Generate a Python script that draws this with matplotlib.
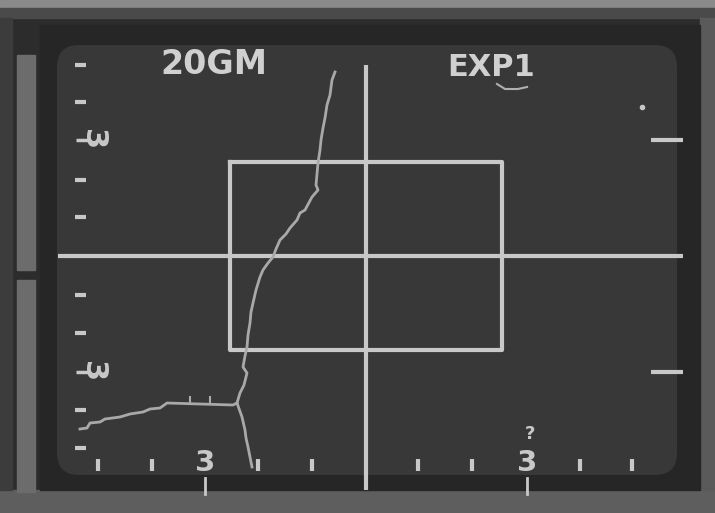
import matplotlib
matplotlib.use("Agg")
import matplotlib.pyplot as plt
from matplotlib.patches import Rectangle, FancyBboxPatch

# ---- data (display pixel coordinates) ----
trace_main_x = [335, 332, 330, 327, 325, 323, 321, 320, 318, 316, 318, 312, 305, 300, 297, 290, 286, 280, 276, 273, 268, 263, 260, 256, 253, 251, 250, 248, 247, 245, 243, 247, 244, 240, 237]
trace_main_y = [72, 80, 95, 105, 118, 128, 140, 150, 163, 185, 190, 197, 210, 213, 220, 228, 234, 240, 249, 257, 263, 270, 277, 290, 303, 312, 323, 335, 347, 356, 367, 373, 385, 393, 403]
trace_branch_x = [237, 233, 200, 167, 160, 150, 143, 130, 120, 105, 100, 90, 87, 80]
trace_branch_y = [403, 405, 404, 403, 408, 409, 412, 414, 417, 419, 422, 423, 428, 429]
trace_tail_x = [237, 242, 245, 246, 248, 250, 252]
trace_tail_y = [403, 417, 430, 438, 447, 457, 467]

left_tick_y = [65, 102, 180, 217, 295, 333, 410, 448]
left_label_y = [140, 372]
bottom_tick_x = [98, 152, 258, 312, 418, 472, 580, 632]
bottom_label_x = [205, 527]
right_dash_y = [140, 372]

box = (230, 162, 502, 350)
cross_x, cross_y = 366, 256

LINE = "#c8c8c8"
TRACE = "#a9a9a9"

fig = plt.figure(figsize=(7.15, 5.13), dpi=100)
ax = fig.add_axes([0, 0, 1, 1])
ax.set_xlim(0, 715)
ax.set_ylim(513, 0)
ax.axis("off")
fig.patch.set_facecolor("#2a2a2a")

# bezel
ax.add_patch(Rectangle((0, 0), 715, 513, color="#2c2c2c", zorder=0))
ax.add_patch(Rectangle((0, 0), 715, 8, color="#8a8a8a", zorder=1))
ax.add_patch(Rectangle((0, 8), 715, 10, color="#4a4a4a", zorder=1))
ax.add_patch(Rectangle((0, 490), 715, 23, color="#5e5e5e", zorder=1))
ax.add_patch(Rectangle((0, 18), 12, 472, color="#3c3c3c", zorder=1))
ax.add_patch(Rectangle((17, 55), 18, 215, color="#6c6c6c", zorder=1))
ax.add_patch(Rectangle((17, 280), 18, 212, color="#6c6c6c", zorder=1))
ax.add_patch(Rectangle((700, 18), 15, 472, color="#5a5a5a", zorder=1))
ax.add_patch(Rectangle((40, 25), 660, 465, color="#262626", zorder=1))

# screen
ax.add_patch(FancyBboxPatch((57, 45), 620, 430, boxstyle="round,pad=0,rounding_size=22",
                            facecolor="#383838", edgecolor="none", zorder=2))

# crosshair
ax.plot([58, 683], [cross_y, cross_y], color=LINE, lw=3, solid_capstyle="butt", zorder=5)
ax.plot([cross_x, cross_x], [65, 490], color=LINE, lw=3, solid_capstyle="butt", zorder=5)

# box
x0, y0, x1, y1 = box
ax.plot([x0, x1, x1, x0, x0], [y0, y0, y1, y1, y0], color=LINE, lw=3, zorder=5)

# trace
for xs, ys in [(trace_main_x, trace_main_y), (trace_branch_x, trace_branch_y), (trace_tail_x, trace_tail_y)]:
    ax.plot(xs, ys, color=TRACE, lw=2, zorder=6)
for tx in [190, 210]:
    ax.plot([tx, tx], [397, 404], color=TRACE, lw=1.5, zorder=6)

# left scale
for y in left_tick_y:
    ax.plot([75, 86], [y, y], color=LINE, lw=3, solid_capstyle="butt", zorder=5)
for y in left_label_y:
    ax.plot([76, 90], [y, y], color=LINE, lw=2.5, solid_capstyle="butt", zorder=5)
    ax.text(93, y, "3", color=LINE, fontsize=22, fontweight="bold", rotation=270,
            ha="center", va="center", family="DejaVu Sans", zorder=6)

# bottom scale
for x in bottom_tick_x:
    ax.plot([x, x], [459, 471], color=LINE, lw=3, solid_capstyle="butt", zorder=5)
for x in bottom_label_x:
    ax.text(x, 463, "3", color=LINE, fontsize=21, fontweight="bold",
            ha="center", va="center", family="DejaVu Sans", zorder=6)
    ax.plot([x, x], [478, 494], color=LINE, lw=2, zorder=5)
ax.text(bottom_label_x[1] + 3, 434, "?", color=LINE, fontsize=13, fontweight="bold",
        ha="center", va="center", family="DejaVu Sans", zorder=6)

# right markers
for y in right_dash_y:
    ax.plot([651, 683], [y, y], color=LINE, lw=3, solid_capstyle="butt", zorder=5)
ax.plot([642], [107], marker="o", ms=3, color=LINE, zorder=6)

# titles
ax.text(214, 65, "20GM", color="#d0d0d0", fontsize=24, fontweight="bold",
        ha="center", va="center", family="DejaVu Sans", zorder=6)
ax.text(491, 67, "EXP1", color="#d0d0d0", fontsize=22, fontweight="bold",
        ha="center", va="center", family="DejaVu Sans", zorder=6)
ax.plot([497, 505, 518, 527], [84, 89, 89, 87], color="#b0b0b0", lw=1.5, zorder=6)

fig.savefig("out.png", dpi=100, facecolor=fig.get_facecolor())
